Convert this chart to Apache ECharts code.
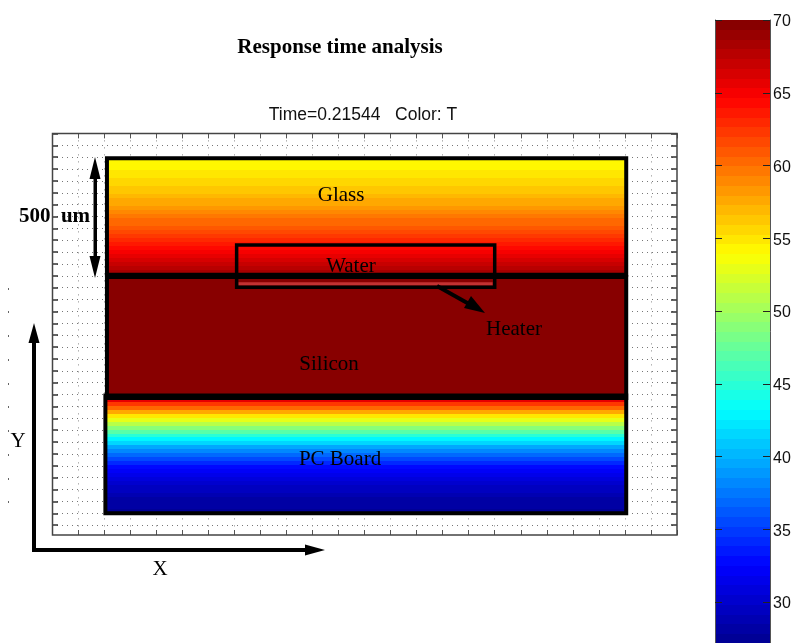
<!DOCTYPE html>
<html><head><meta charset="utf-8">
<style>html,body{margin:0;padding:0;background:#fff;overflow:hidden}#c{width:794px;height:643px}</style>
<script src="https://cdn.jsdelivr.net/npm/echarts@6/dist/echarts.min.js"></script>
</head><body><div id="c"></div>
<script>
// Temperatures, one row per band, top to bottom
const glassTemps=[54.0,54.3,54.6,54.9,55.2,55.5,55.9,56.2,56.6,57.0,57.4,57.9,58.4,58.9,59.4,60.0,60.5,61.0,61.7,62.4,63.1,63.8,64.5,65.1,65.8,66.4,67.0,67.6,68.3];
const siliconTemps=[69.5];
const boardTemps=[65.5,62.5,60.0,57.5,55.0,53.0,50.8,49.0,47.0,45.0,43.0,41.3,39.7,38.2,36.8,35.5,34.2,33.0,32.2,31.5,30.9,30.3,29.8,29.3,28.9,28.5,28.2,27.9,27.6];
// Layers in micrometres: outlines and filled bands
const layerNames=['Glass','Silicon','PC Board'];
const layerX0=[211,211,205];
const layerX1=[2205,2205,2205];
const layerY0=[1105,586,100];
const layerY1=[1595,1095,596];
const bandX0=[205,205,205];
const bandX1=[2205,2205,2205];
const bandY0=[1105,590,100];
const bandY1=[1595,1100,584];
const layerTemps=[glassTemps,siliconTemps,boardTemps];
// Water cell and heater strip
const waterCell=[709,1052,1700,1230];
const heaterStrip=[715,1059,1692,1073];
// Text labels in plot coordinates
const labelTexts=['Glass','Water','Heater','Silicon','PC Board'];
const labelX=[1110,1148,1774,1064,1106];
const labelY=[1437,1141,876,728,328];
const outerTickY=[1050,950,850,750,650,550,450,350,250,150];
// Colour bar
const colorbarLevels=[27.53,28.2,28.87,29.54,30.21,30.88,31.55,32.22,32.89,33.56,34.22,34.89,35.56,36.23,36.9,37.57,38.24,38.91,39.58,40.25,40.92,41.59,42.26,42.93,43.6,44.27,44.94,45.61,46.28,46.95,47.62,48.29,48.96,49.63,50.3,50.97,51.64,52.31,52.98,53.65,54.32,54.99,55.66,56.33,57.0,57.67,58.34,59.01,59.68,60.35,61.02,61.69,62.36,63.03,63.7,64.37,65.04,65.71,66.38,67.05,67.72,68.39,69.06,69.73];
const colorMin=27.2,colorMax=70,colorStep=0.669;
const jetStops=[[0,0,143],[0,0,255],[0,128,255],[0,255,255],[128,255,128],[255,255,0],[255,128,0],[255,0,0],[128,0,0]];
const serif='"Liberation Serif","Times New Roman",serif';
const sans='"Liberation Sans",Arial,sans-serif';

function jetColor(T){
  const idx=Math.min(63,Math.max(0,Math.floor((T-colorMin)/colorStep)));
  const t=(idx+0.5)/64*8, i=Math.min(7,Math.floor(t)), f=t-i;
  const c=jetStops[i].map((v,k)=>Math.round(v+(jetStops[i+1][k]-v)*f));
  return 'rgb('+c.join(',')+')';
}
const bandData=[];
layerTemps.forEach((temps,l)=>{
  const h=(bandY1[l]-bandY0[l])/temps.length;
  temps.forEach((T,i)=>bandData.push([bandX0[l],bandX1[l],bandY1[l]-h*(i+1),bandY1[l]-h*i,T]));
});
function rectOf(api,x0,y0,x1,y1){
  const a=api.coord([x0,y1]),b=api.coord([x1,y0]);
  return {x:a[0],y:a[1],width:b[0]-a[0],height:b[1]-a[1]};
}
function arrow(points){return {type:'polygon',z:100,shape:{points},style:{fill:'#000'}};}
function text(t,x,y,bold){return {type:'text',z:100,x,y,style:{text:t,fill:'#000',font:(bold?'bold ':'')+'21px '+serif,textAlign:'center',textVerticalAlign:'middle'}};}
const noZero={show:false,onZero:false};

const chart=echarts.init(document.getElementById('c'),null,{renderer:'canvas'});
chart.setOption({
  animation:false,backgroundColor:'#fff',
  title:[
    {text:'Response time analysis',left:335,top:32,textAlign:'center',textStyle:{fontFamily:serif,fontSize:21,fontWeight:'bold',color:'#000'}},
    {text:'Time=0.21544   Color: T',left:358,top:101,textAlign:'center',textStyle:{fontFamily:sans,fontSize:17.5,fontWeight:'normal',color:'#111'}}
  ],
  grid:[
    {left:52,top:133.4,width:625,height:403.6,outerBoundsMode:'none'},
    {left:715,top:20,width:55,height:654.75,outerBoundsMode:'none'}
  ],
  xAxis:[
    {gridIndex:0,type:'value',min:0,max:2400,interval:100,position:'bottom',offset:-2,axisLine:noZero,axisLabel:{show:false},
     axisTick:{inside:true,length:5,lineStyle:{color:'#555'}},splitLine:{show:true,showMinLine:false,showMaxLine:false,lineStyle:{type:[1,6],color:'#888'}}},
    {gridIndex:0,type:'value',min:0,max:2400,interval:100,position:'top',axisLine:noZero,axisLabel:{show:false},
     axisTick:{inside:true,length:5,lineStyle:{color:'#555'}},splitLine:{show:false}},
    {gridIndex:1,type:'value',min:0,max:1,show:false}
  ],
  yAxis:[
    {gridIndex:0,type:'value',min:0,max:1700,interval:50,position:'left',axisLine:noZero,axisLabel:{show:false},
     axisTick:{inside:true,length:6,lineStyle:{color:'#333',width:1.5}},splitLine:{show:true,showMinLine:false,showMaxLine:false,lineStyle:{type:[1,4],color:'#777'}}},
    {gridIndex:0,type:'value',min:0,max:1700,interval:50,position:'right',axisLine:noZero,axisLabel:{show:false},
     axisTick:{inside:true,length:6,lineStyle:{color:'#333',width:1.5}},splitLine:{show:false}},
    {gridIndex:1,type:'value',min:25,max:70,interval:5,position:'right',z:10,axisLine:{show:true,onZero:false,lineStyle:{color:'#555'}},
     axisTick:{inside:true,length:7,lineStyle:{color:'#222'}},
     axisLabel:{margin:3,showMinLabel:false,formatter:'{n|{value}}',rich:{n:{fontFamily:sans,fontSize:16,color:'#111',padding:[4,0,0,0]}}},splitLine:{show:false}},
    {gridIndex:1,type:'value',min:25,max:70,interval:5,position:'left',z:10,axisLine:{show:true,onZero:false,lineStyle:{color:'#555'}},
     axisTick:{inside:true,length:7,lineStyle:{color:'#222'}},axisLabel:{show:false},splitLine:{show:false}}
  ],
  series:[
    {type:'custom',name:'bands',xAxisIndex:0,yAxisIndex:0,clip:false,z:3,data:bandData,
     renderItem:(p,api)=>{
       const r=rectOf(api,api.value(0),api.value(2),api.value(1),api.value(3));
       return {type:'rect',shape:{x:r.x,y:Math.floor(r.y),width:r.width,height:Math.ceil(r.height)+1},style:{fill:jetColor(api.value(4))}};
     }},
    {type:'custom',name:'layers',xAxisIndex:0,yAxisIndex:0,clip:false,z:4,
     data:layerNames.map((n,i)=>[layerX0[i],layerY0[i],layerX1[i],layerY1[i]]),
     renderItem:(p,api)=>({type:'rect',shape:rectOf(api,api.value(0),api.value(1),api.value(2),api.value(3)),style:{fill:'none',stroke:'#000',lineWidth:4}})},
    {type:'custom',name:'heater',xAxisIndex:0,yAxisIndex:0,clip:false,z:5,data:[heaterStrip],
     renderItem:(p,api)=>({type:'rect',shape:rectOf(api,api.value(0),api.value(1),api.value(2),api.value(3)),style:{fill:'#c33232'}})},
    {type:'custom',name:'water',xAxisIndex:0,yAxisIndex:0,clip:false,z:6,data:[waterCell],
     renderItem:(p,api)=>({type:'rect',shape:rectOf(api,api.value(0),api.value(1),api.value(2),api.value(3)),style:{fill:'none',stroke:'#000',lineWidth:3.5}})},
    {type:'custom',name:'labels',xAxisIndex:0,yAxisIndex:0,clip:false,z:7,
     data:labelTexts.map((t,i)=>[labelX[i],labelY[i],t]),
     renderItem:(p,api)=>{
       const c=api.coord([api.value(0),api.value(1)]);
       return {type:'text',x:c[0],y:c[1],style:{text:labelTexts[p.dataIndex],fill:'#000',font:'21px '+serif,textAlign:'center',textVerticalAlign:'middle'}};
     }},
    {type:'custom',name:'outerTicks',xAxisIndex:0,yAxisIndex:0,clip:false,z:2,data:outerTickY.map(y=>[-169,y]),
     renderItem:(p,api)=>{
       const c=api.coord([api.value(0),api.value(1)]);
       return {type:'rect',shape:{x:Math.round(c[0]),y:Math.round(c[1]),width:1,height:2},style:{fill:'#666'}};
     }},
    {type:'custom',name:'colorbar',xAxisIndex:2,yAxisIndex:2,clip:false,z:1,data:colorbarLevels.map(v=>[v]),
     renderItem:(p,api)=>{
       const v=api.value(0);
       const a=api.coord([0,Math.min(colorMax,v+colorStep/2)]),b=api.coord([1,v-colorStep/2]);
       return {type:'rect',shape:{x:a[0],y:Math.round(a[1]),width:b[0]-a[0],height:Math.round(b[1])-Math.round(a[1])+1},style:{fill:jetColor(v)}};
     }}
  ],
  graphic:[
    {type:'rect',z:90,shape:{x:50,y:536,width:630,height:4},style:{fill:'#fff'}},
    {type:'rect',z:91,shape:{x:52.5,y:133.5,width:624.5,height:401.5},style:{fill:'none',stroke:'#444',lineWidth:1.5}},
    // 500 um double arrow
    {type:'rect',z:100,shape:{x:93.5,y:172,width:3.5,height:92},style:{fill:'#000'}},
    arrow([[95,157],[100.5,179],[89.5,179]]),
    arrow([[95,278],[100.5,256],[89.5,256]]),
    // heater arrow
    {type:'line',z:100,shape:{x1:437,y1:286,x2:470,y2:304.5},style:{stroke:'#000',lineWidth:4}},
    arrow([[485,313],[464,308],[471,296]]),
    // X and Y axes arrows
    {type:'rect',z:100,shape:{x:32,y:335,width:4,height:217},style:{fill:'#000'}},
    {type:'rect',z:100,shape:{x:32,y:548,width:275,height:4},style:{fill:'#000'}},
    arrow([[34,323],[39.5,343],[28.5,343]]),
    arrow([[325,550],[305,555.5],[305,544.5]]),
    text('X',160,569),
    text('Y',18,441),
    text('500\u00a0\u00a0um',54.5,217,true)
  ]
});
</script></body></html>
